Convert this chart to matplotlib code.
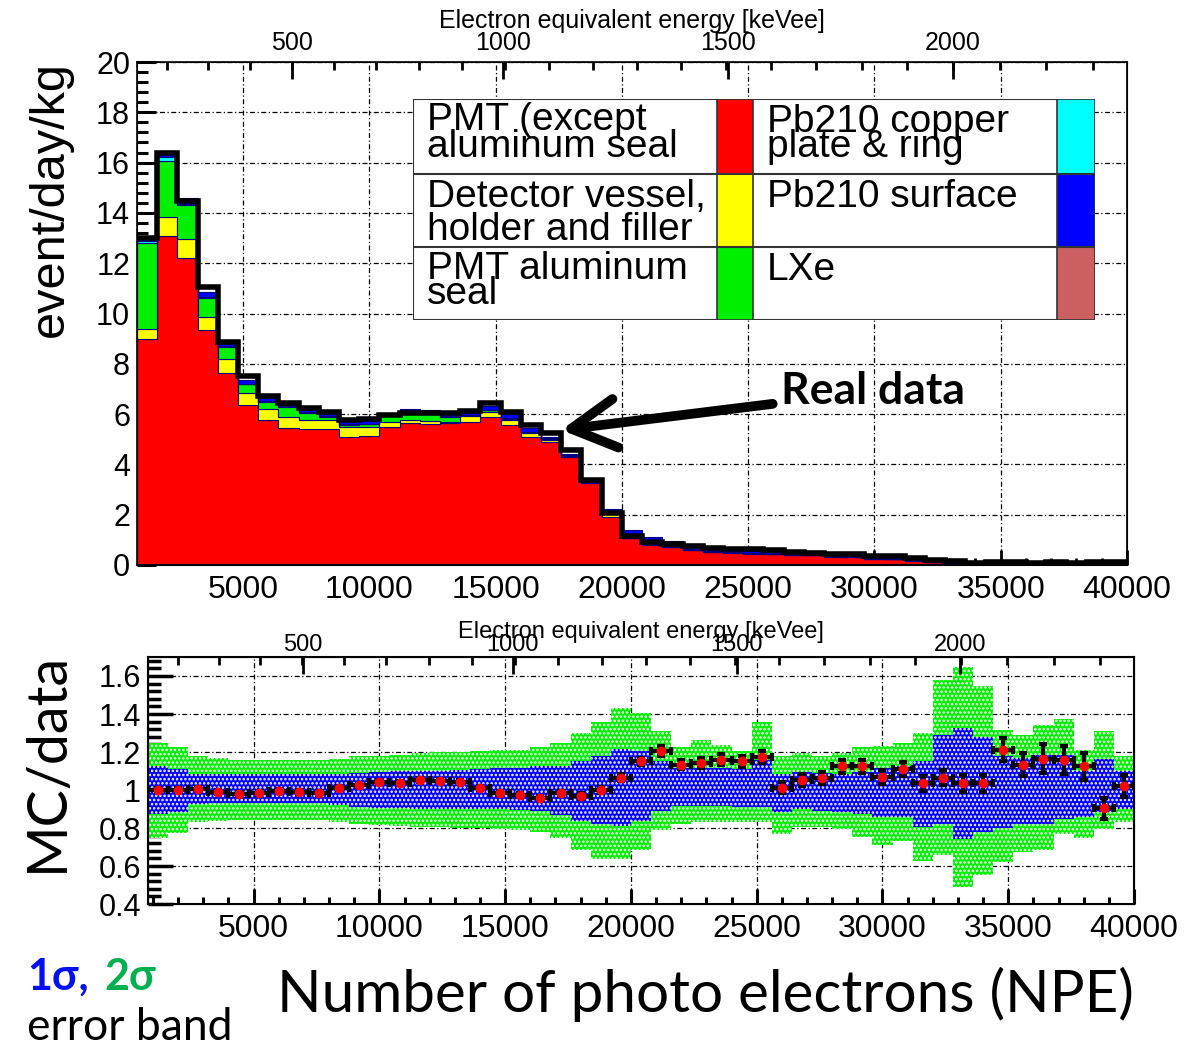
import numpy as np
import matplotlib
matplotlib.use("Agg")
import matplotlib.pyplot as plt
from matplotlib.patches import Rectangle
from matplotlib.ticker import MultipleLocator, FixedLocator, FormatStrFormatter

plt.rcParams['font.family'] = ['Liberation Sans', 'DejaVu Sans']
plt.rcParams['hatch.linewidth'] = 1.2
slide_font = ['Lato', 'DejaVu Sans']

# binning in NPE
npe_lo = 800
npe_hi = 40000
bin_w = 800

# ---- top panel: stacked MC components [event/day/kg], bottom -> top ----
lxe = [0.03, 0.03, 0.03, 0.03, 0.03, 0.03, 0.03, 0.03, 0.03, 0.03,
       0.03, 0.03, 0.03, 0.03, 0.03, 0.03, 0.03, 0.03, 0.03, 0.03,
       0.03, 0.03, 0.03, 0.03, 0.03, 0.03, 0.03, 0.03, 0.03, 0.03,
       0.03, 0.03, 0.03, 0.03, 0.03, 0.03, 0.03, 0.03, 0.03, 0.04,
       0.04, 0.05, 0.05, 0.05, 0.05, 0.04, 0.04, 0.05, 0.05]
pmt = [8.97, 13.05, 12.16, 9.31, 7.59, 6.33, 5.74, 5.43, 5.38, 5.38,
       5.07, 5.11, 5.47, 5.60, 5.57, 5.60, 5.67, 5.87, 5.54, 5.07,
       4.87, 4.28, 3.22, 1.89, 1.03, 0.77, 0.69, 0.57, 0.49, 0.46,
       0.42, 0.40, 0.37, 0.35, 0.30, 0.28, 0.21, 0.19, 0.14, 0.07,
       0.04, 0.01, 0.0, 0.0, 0.0, 0.0, 0.0, 0.0, 0.0]
vessel = [0.37, 0.74, 0.76, 0.53, 0.56, 0.47, 0.45, 0.44, 0.36, 0.36,
          0.40, 0.36, 0.20, 0.14, 0.14, 0.07, 0.22, 0.20, 0.20, 0.14,
          0.09, 0.04, 0.03, 0.16, 0.02, 0.02, 0.01, 0.01, 0.01, 0.01,
          0.01, 0.01, 0.01, 0.01, 0.01, 0.01, 0.01, 0.01, 0.01, 0.01,
          0.0, 0.0, 0.0, 0.0, 0.0, 0.0, 0.0, 0.0, 0.0]
al_seal = [3.42, 2.26, 1.36, 0.76, 0.50, 0.35, 0.27, 0.39, 0.29, 0.13,
           0.07, 0.10, 0.24, 0.26, 0.26, 0.20, 0.05, 0.05, 0.05, 0.04,
           0.03, 0.02, 0.02, 0.02, 0.01, 0.01, 0.01, 0.01, 0.01, 0.01,
           0.01, 0.01, 0.01, 0.01, 0.01, 0.01, 0.01, 0.01, 0.01, 0.01,
           0.01, 0.01, 0.0, 0.0, 0.0, 0.0, 0.0, 0.0, 0.0]
pb_copper = [0.10, 0.16, 0.05, 0.03, 0.03, 0.03, 0.03, 0.03, 0.03, 0.03,
             0.03, 0.02, 0.02, 0.01, 0.01, 0.01, 0.01, 0.01, 0.01, 0.01,
             0.01, 0.01, 0.01, 0.01, 0.01, 0.01, 0.01, 0.01, 0.01, 0.01,
             0.01, 0.01, 0.01, 0.01, 0.01, 0.01, 0.01, 0.01, 0.01, 0.01,
             0.01, 0.01, 0.0, 0.0, 0.0, 0.0, 0.0, 0.0, 0.0]
pb_surface = [0.19, 0.06, 0.22, 0.18, 0.10, 0.15, 0.11, 0.06, 0.06, 0.07,
              0.23, 0.22, 0.08, 0.15, 0.14, 0.12, 0.05, 0.16, 0.17, 0.14,
              0.05, 0.03, 0.02, 0.13, 0.29, 0.28, 0.20, 0.10, 0.08, 0.07,
              0.06, 0.05, 0.05, 0.05, 0.04, 0.04, 0.04, 0.04, 0.03, 0.03,
              0.03, 0.02, 0.02, 0.02, 0.02, 0.02, 0.02, 0.02, 0.02]
real_data = [13.00, 16.37, 14.47, 11.07, 8.88, 7.51, 6.73, 6.43, 6.23, 6.10,
             5.77, 5.80, 5.97, 6.03, 6.05, 6.03, 6.14, 6.43, 6.10, 5.57,
             5.24, 4.57, 3.38, 2.05, 1.15, 0.92, 0.82, 0.75, 0.66, 0.65,
             0.62, 0.58, 0.50, 0.48, 0.44, 0.42, 0.36, 0.34, 0.26, 0.19,
             0.15, 0.09, 0.10, 0.10, 0.08, 0.10, 0.08, 0.10, 0.12]

# ---- bottom panel: MC/data and error bands ----
ratio = [1.000, 1.000, 1.007, 0.990, 0.977, 0.986, 0.995, 0.990, 0.986, 1.009,
         1.024, 1.042, 1.035, 1.054, 1.050, 1.042, 1.009, 0.983, 0.972, 0.958,
         0.983, 0.970, 1.000, 1.064, 1.151, 1.203, 1.134, 1.143, 1.160, 1.151,
         1.174, 1.012, 1.052, 1.064, 1.125, 1.125, 1.068, 1.111, 1.035, 1.064,
         1.035, 1.035, 1.212, 1.134, 1.165, 1.160, 1.125, 0.903, 1.021]
ratio_err = [0.010, 0.010, 0.010, 0.010, 0.010, 0.010, 0.010, 0.010, 0.010, 0.010,
             0.010, 0.010, 0.010, 0.010, 0.010, 0.010, 0.010, 0.010, 0.010, 0.010,
             0.012, 0.015, 0.015, 0.018, 0.018, 0.026, 0.025, 0.025, 0.028, 0.028,
             0.030, 0.030, 0.030, 0.030, 0.035, 0.035, 0.035, 0.035, 0.040, 0.040,
             0.045, 0.045, 0.060, 0.060, 0.075, 0.074, 0.070, 0.057, 0.060]
band2_hi = [1.250, 1.224, 1.177, 1.170, 1.160, 1.160, 1.160, 1.160, 1.160, 1.162,
            1.177, 1.180, 1.186, 1.195, 1.198, 1.200, 1.205, 1.210, 1.212, 1.226,
            1.250, 1.300, 1.360, 1.430, 1.407, 1.308, 1.226, 1.264, 1.238, 1.203,
            1.360, 1.177, 1.195, 1.177, 1.195, 1.226, 1.233, 1.250, 1.300, 1.580,
            1.647, 1.546, 1.317, 1.290, 1.343, 1.374, 1.212, 1.308, 1.177]
band1_hi = [1.125, 1.111, 1.085, 1.082, 1.082, 1.082, 1.082, 1.082, 1.082, 1.085,
            1.090, 1.095, 1.099, 1.100, 1.100, 1.105, 1.110, 1.115, 1.117, 1.125,
            1.125, 1.151, 1.177, 1.216, 1.203, 1.151, 1.117, 1.117, 1.117, 1.108,
            1.160, 1.082, 1.094, 1.090, 1.082, 1.094, 1.117, 1.125, 1.151, 1.290,
            1.325, 1.278, 1.177, 1.169, 1.186, 1.186, 1.099, 1.163, 1.099]
band1_lo = [0.873, 0.882, 0.925, 0.930, 0.930, 0.930, 0.930, 0.930, 0.930, 0.920,
            0.910, 0.905, 0.905, 0.900, 0.900, 0.900, 0.900, 0.900, 0.895, 0.890,
            0.870, 0.838, 0.820, 0.812, 0.838, 0.890, 0.917, 0.917, 0.917, 0.908,
            0.908, 0.882, 0.900, 0.890, 0.882, 0.873, 0.856, 0.856, 0.803, 0.820,
            0.743, 0.777, 0.798, 0.820, 0.820, 0.847, 0.856, 0.882, 0.900]
band2_lo = [0.746, 0.774, 0.830, 0.836, 0.840, 0.840, 0.840, 0.840, 0.840, 0.830,
            0.820, 0.815, 0.810, 0.805, 0.803, 0.800, 0.800, 0.795, 0.790, 0.777,
            0.745, 0.682, 0.635, 0.635, 0.682, 0.790, 0.820, 0.830, 0.830, 0.830,
            0.833, 0.770, 0.803, 0.803, 0.795, 0.751, 0.708, 0.734, 0.624, 0.656,
            0.490, 0.551, 0.620, 0.673, 0.682, 0.770, 0.746, 0.795, 0.833]

# electron-equivalent energy axis: keVee labels and where they sit in NPE
kev_labels = [500, 1000, 1500, 2000]
kev_at_npe = [6950, 15300, 24200, 33100]

legend_text = [["PMT (except", "aluminum seal"],
               ["Detector vessel,", "holder and filler"],
               ["PMT aluminum", "seal"],
               ["Pb210 copper", "plate & ring"],
               ["Pb210 surface"],
               ["LXe"]]

c_red, c_yel, c_grn = '#ff0000', '#ffff00', '#00f000'
c_cyan, c_blue, c_lxe = '#00ffff', '#0000ff', '#cc6060'

edges = np.arange(npe_lo, npe_hi + bin_w, bin_w)
centers = edges[:-1] + bin_w / 2

W, H = 1194, 1050
def box(l, t, r, b):
    return [l / W, 1 - b / H, (r - l) / W, (b - t) / H]

fig = plt.figure(figsize=(W / 100, H / 100), dpi=100)
grid_ls = (0, (4, 2, 1, 2))

# ================= top panel =================
ax = fig.add_axes(box(137, 62, 1127, 565))
ax.set_axisbelow(True)
layers = [(lxe, c_lxe), (pmt, c_red), (vessel, c_yel), (al_seal, c_grn),
          (pb_copper, c_cyan), (pb_surface, c_blue)]
bottom = np.zeros(len(centers))
for vals, col in layers:
    top = bottom + np.array(vals)
    ax.stairs(top, edges, baseline=bottom, fill=True, facecolor=col,
              edgecolor='#000080', linewidth=0.8, zorder=2)
    bottom = top
ax.stairs(real_data, edges, baseline=None, color='black', linewidth=4, zorder=3)

ax.set_xlim(npe_lo, npe_hi)
ax.set_ylim(0, 20)
ax.set_xticks(np.arange(5000, 40001, 5000))
ax.set_yticks(np.arange(0, 21, 2))
ax.xaxis.set_minor_locator(MultipleLocator(1000))
ax.yaxis.set_minor_locator(MultipleLocator(0.4))
ax.grid(which='major', color='black', linestyle=grid_ls, linewidth=0.9)
ax.tick_params(axis='x', which='major', direction='in', length=11, width=2,
               labelsize=23, pad=7, top=False)
ax.tick_params(axis='x', which='minor', direction='in', length=5, width=2, top=False)
ax.tick_params(axis='y', which='major', direction='in', length=14, width=2.2,
               labelsize=22, pad=5, right=False)
ax.tick_params(axis='y', which='minor', direction='in', length=8, width=2.2, right=False)
for s in ax.spines.values():
    s.set_linewidth(1.2)

kev_fit = np.polyfit(kev_labels, kev_at_npe, 2)
kev_minor = np.polyval(kev_fit, np.arange(100, 2400, 100))
kev_minor = kev_minor[(kev_minor > npe_lo) & (kev_minor < npe_hi)]

def energy_axis(a, labelsize, pad, labelpad):
    t = a.twiny()
    t.set_xlim(npe_lo, npe_hi)
    t.set_xticks(kev_at_npe, labels=[str(k) for k in kev_labels])
    t.xaxis.set_minor_locator(FixedLocator(kev_minor))
    t.tick_params(axis='x', which='major', direction='in', length=12, width=2,
                  labelsize=labelsize, pad=pad)
    t.tick_params(axis='x', which='minor', direction='in', length=6, width=2)
    t.set_xlabel('Electron equivalent energy [keVee]', fontsize=labelsize,
                 labelpad=labelpad)
    return t

energy_axis(ax, 18, 5, 2)

fig.text(50 / W, 1 - 199 / H, 'event/day/kg', rotation=90, ha='center',
         va='center', fontsize=35)

ax.annotate('Real data', xy=(17600, 5.37), xytext=(26300, 6.9),
            fontsize=32, fontweight='bold', family=slide_font,
            ha='left', va='center', zorder=6,
            arrowprops=dict(arrowstyle='->,head_length=1.0,head_width=0.55',
                            lw=7, color='black', shrinkA=4, shrinkB=0,
                            capstyle='round', joinstyle='round'))

# legend table
leg = fig.add_axes(box(413, 99, 1095, 320))
leg.set_xlim(0, 682)
leg.set_ylim(221, 0)
leg.axis('off')
leg.add_patch(Rectangle((0, 0), 682, 221, facecolor='white', edgecolor='#333333', lw=1.5))
leg_colors = [c_red, c_yel, c_grn, c_cyan, c_blue, c_lxe]
row_top = [0, 75, 148, 221]
col_text_x = [14, 354]
col_box = [(304, 340), (644, 682)]
line_y = [[31, 58], [33, 66], [32, 57], [33, 58], [33], [33]]
for i, (lines, col) in enumerate(zip(legend_text, leg_colors)):
    c, r = i // 3, i % 3
    x0, x1 = col_box[c]
    leg.add_patch(Rectangle((x0, row_top[r]), x1 - x0, row_top[r + 1] - row_top[r],
                            facecolor=col, edgecolor='#333333', lw=1.2))
    for txt, dy in zip(lines, line_y[i]):
        leg.text(col_text_x[c], row_top[r] + dy, txt, fontsize=28, ha='left',
                 va='baseline')
for y in row_top[1:3]:
    leg.plot([0, 682], [y, y], color='#333333', lw=1.5)

# ================= bottom panel =================
axr = fig.add_axes(box(148, 657, 1134, 904))
axr.set_axisbelow(True)
axr.stairs(band2_hi, edges, baseline=band2_lo, fill=True, facecolor=c_grn,
           edgecolor='white', hatch='....', linewidth=0, zorder=2)
axr.stairs(band1_hi, edges, baseline=band1_lo, fill=True, facecolor=c_blue,
           edgecolor='white', hatch='....', linewidth=0, zorder=2)
axr.errorbar(centers, ratio, xerr=bin_w / 2, yerr=ratio_err, fmt='o',
             color='black', ecolor='black', elinewidth=3, capsize=3, capthick=3,
             mfc='red', mec='red', ms=6, zorder=4)

axr.set_xlim(npe_lo, npe_hi)
axr.set_ylim(0.4, 1.7)
axr.set_xticks(np.arange(5000, 40001, 5000))
axr.set_yticks([0.4, 0.6, 0.8, 1.0, 1.2, 1.4, 1.6])
axr.yaxis.set_major_formatter(FormatStrFormatter('%g'))
axr.xaxis.set_minor_locator(MultipleLocator(1000))
axr.yaxis.set_minor_locator(MultipleLocator(0.04))
axr.grid(which='major', color='black', linestyle=grid_ls, linewidth=0.9)
axr.tick_params(axis='x', which='major', direction='in', length=11, width=2.2,
                labelsize=23, pad=7, top=False)
axr.tick_params(axis='x', which='minor', direction='in', length=5, width=2.2, top=False)
axr.tick_params(axis='y', which='major', direction='in', length=18, width=2.5,
                labelsize=22, pad=5, right=False)
axr.tick_params(axis='y', which='minor', direction='in', length=9, width=2.5, right=False)
for s in axr.spines.values():
    s.set_linewidth(1.5)

energy_axis(axr, 17, 1, -3)

fig.text(47 / W, 1 - 762 / H, 'MC/data', rotation=90, ha='center', va='center',
         fontsize=40, family=slide_font)
fig.text(705 / W, 1 - 1012 / H, 'Number of photo electrons (NPE)', ha='center',
         va='baseline', fontsize=42, family=slide_font)
fig.text(27 / W, 1 - 990 / H, '1σ,', ha='left', va='baseline', fontsize=31,
         fontweight='bold', color='#0010f0', family=slide_font)
fig.text(104 / W, 1 - 990 / H, '2σ', ha='left', va='baseline', fontsize=31,
         fontweight='bold', color='#00b050', family=slide_font)
fig.text(27 / W, 1 - 1040 / H, 'error band', ha='left', va='baseline',
         fontsize=32, family=slide_font)

fig.savefig('out.png', dpi=100)
